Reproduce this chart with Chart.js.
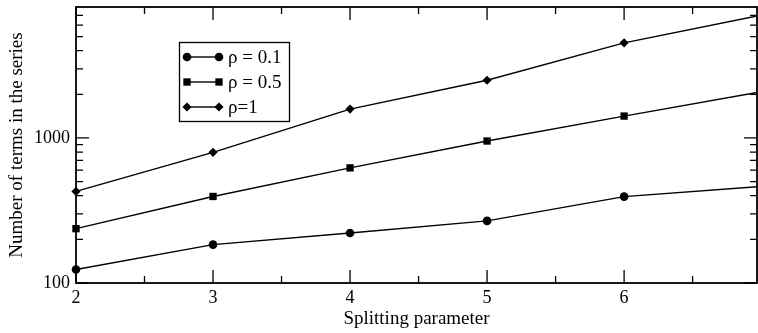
<!DOCTYPE html>
<html>
<head>
<meta charset="utf-8">
<script src="https://cdn.jsdelivr.net/npm/chart.js@4.4.0/dist/chart.umd.min.js"></script>
<style>
  html, body { margin: 0; padding: 0; background: #fff; overflow: hidden; }
</style>
</head>
<body>
<canvas id="chart" width="758" height="333"></canvas>
<script>
// data
const splitting = [2, 3, 4, 5, 6, 7];
const rho01 = [124, 184, 221, 268, 394, 463];
const rho05 = [237, 395, 622, 953, 1416, 2080];
const rho1 = [428, 796, 1581, 2500, 4529, 7030];
const seriesLabels = ["ρ = 0.1", "ρ = 0.5", "ρ=1"];
const seriesMarkers = ["circle", "rect", "rectRot"];
const yLabelValues = [100, 1000];
const yMinorValues = [200, 300, 400, 500, 600, 700, 800, 900, 2000, 3000, 4000, 5000, 6000, 7000];
const xMajorValues = [2, 3, 4, 5, 6, 7];
const xMinorValues = [2.5, 3.5, 4.5, 5.5, 6.5];

const FONT = "'Liberation Serif', 'Times New Roman', serif";
const markerSize = { circle: 4.3, rect: 5.2, rectRot: 4.6 };

function toPoints(vals) {
  return splitting.map((x, i) => ({ x: x, y: vals[i] }));
}

const allSeries = [rho01, rho05, rho1];
const datasets = allSeries.map((vals, i) => ({
  label: seriesLabels[i],
  data: toPoints(vals),
  borderColor: "#000",
  backgroundColor: "#000",
  borderWidth: 1.4,
  pointStyle: seriesMarkers[i],
  pointRadius: markerSize[seriesMarkers[i]],
  pointBorderWidth: 0,
  pointBackgroundColor: "#000",
  tension: 0,
  clip: { left: false, top: 0, right: 0, bottom: false }
}));

// no extra room for the edge labels
function noEdgePadding(s) {
  s.paddingLeft = 0; s.paddingRight = 0;
  s.paddingTop = 0; s.paddingBottom = 0;
}

// frame + inward ticks on all four sides
const framePlugin = {
  id: "frame",
  beforeDatasetsDraw(chart) {
    const ctx = chart.ctx;
    const a = chart.chartArea;
    const xs = chart.scales.x, ys = chart.scales.y;
    ctx.save();
    ctx.strokeStyle = "#000";
    ctx.lineWidth = 1.3;
    ctx.beginPath();
    xMajorValues.forEach(v => {
      const px = xs.getPixelForValue(v);
      if (px > a.right + 0.5) return;
      ctx.moveTo(px, a.bottom); ctx.lineTo(px, a.bottom - 13);
      ctx.moveTo(px, a.top); ctx.lineTo(px, a.top + 13);
    });
    xMinorValues.forEach(v => {
      const px = xs.getPixelForValue(v);
      ctx.moveTo(px, a.bottom); ctx.lineTo(px, a.bottom - 7);
      ctx.moveTo(px, a.top); ctx.lineTo(px, a.top + 7);
    });
    yLabelValues.forEach(v => {
      const py = ys.getPixelForValue(v);
      ctx.moveTo(a.left, py); ctx.lineTo(a.left + 13, py);
      ctx.moveTo(a.right, py); ctx.lineTo(a.right - 13, py);
    });
    yMinorValues.forEach(v => {
      const py = ys.getPixelForValue(v);
      ctx.moveTo(a.left, py); ctx.lineTo(a.left + 7, py);
      ctx.moveTo(a.right, py); ctx.lineTo(a.right - 7, py);
    });
    ctx.stroke();
    ctx.lineWidth = 1.8;
    ctx.strokeRect(a.left, a.top, a.right - a.left, a.bottom - a.top);
    ctx.restore();
  }
};

// boxed legend with a marker at both ends of each sample line
const boxLegend = {
  id: "boxLegend",
  afterDatasetsDraw(chart) {
    const ctx = chart.ctx;
    const bx = 179.5, by = 42.5, bw = 110, bh = 79;
    ctx.save();
    ctx.fillStyle = "#fff";
    ctx.fillRect(bx, by, bw, bh);
    ctx.strokeStyle = "#000";
    ctx.lineWidth = 1.3;
    ctx.strokeRect(bx, by, bw, bh);
    ctx.font = "19px " + FONT;
    ctx.textBaseline = "middle";
    chart.data.datasets.forEach((ds, i) => {
      const y = 57 + i * 25;
      const x0 = 187, x1 = 219;
      ctx.strokeStyle = "#000";
      ctx.lineWidth = 1.4;
      ctx.beginPath();
      ctx.moveTo(x0, y); ctx.lineTo(x1, y);
      ctx.stroke();
      ctx.fillStyle = "#000";
      const opts = { pointStyle: ds.pointStyle, radius: ds.pointRadius, rotation: 0, borderWidth: 0 };
      Chart.helpers.drawPoint(ctx, opts, x0, y);
      Chart.helpers.drawPoint(ctx, opts, x1, y);
      ctx.fillText(ds.label, 228, y + 1);
    });
    ctx.restore();
  }
};

new Chart(document.getElementById("chart"), {
  type: "line",
  data: { datasets: datasets },
  plugins: [framePlugin, boxLegend],
  options: {
    responsive: false,
    animation: false,
    layout: { autoPadding: false, padding: { top: 7, right: 1, left: 0, bottom: 0 } },
    plugins: { legend: { display: false }, tooltip: { enabled: false } },
    scales: {
      x: {
        type: "linear",
        min: 2,
        max: 6.97,
        grid: { display: false, drawTicks: false },
        border: { display: false },
        afterBuildTicks: s => { s.ticks = xMajorValues.map(v => ({ value: v })); },
        afterFit: s => { s.height = 50; noEdgePadding(s); },
        ticks: {
          padding: 4,
          color: "#000",
          font: { family: FONT, size: 18 },
          maxRotation: 0,
          autoSkip: false,
          callback: v => (v === 7 ? "" : String(v))
        },
        title: {
          display: true,
          text: "Splitting parameter",
          color: "#000",
          font: { family: FONT, size: 19 },
          padding: { top: 0, bottom: 3 }
        }
      },
      y: {
        type: "logarithmic",
        min: 100,
        max: 8000,
        grid: { display: false, drawTicks: false },
        border: { display: false },
        afterBuildTicks: s => { s.ticks = yLabelValues.map(v => ({ value: v })); },
        afterFit: s => { s.width = 76; noEdgePadding(s); },
        ticks: {
          padding: 6,
          color: "#000",
          font: { family: FONT, size: 18 },
          autoSkip: false,
          callback: v => String(v)
        },
        title: {
          display: true,
          text: "Number of terms in the series",
          color: "#000",
          font: { family: FONT, size: 19 },
          padding: { top: 6, bottom: 0 }
        }
      }
    }
  }
});
</script>
</body>
</html>
